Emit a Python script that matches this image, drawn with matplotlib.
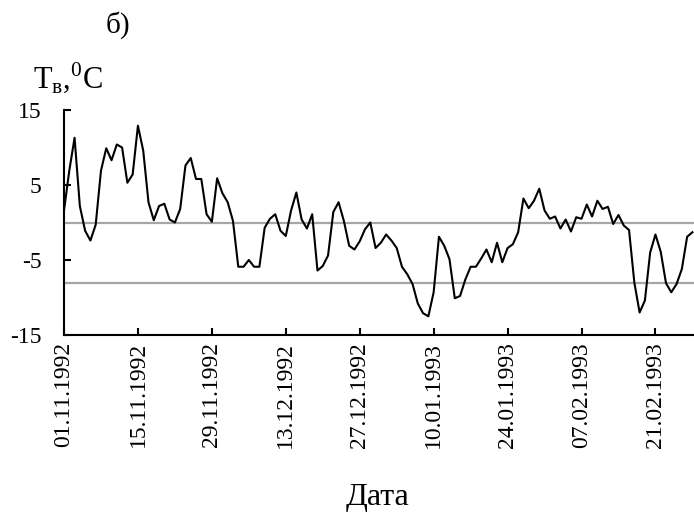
import numpy as np
import pandas as pd
import matplotlib
matplotlib.use('Agg')
import matplotlib.pyplot as plt
import matplotlib.dates as mdates

plt.rcParams['font.family'] = ['Liberation Serif', 'DejaVu Serif']
plt.rcParams['mathtext.fontset'] = 'custom'
plt.rcParams['mathtext.rm'] = 'Liberation Serif'
plt.rcParams['axes.unicode_minus'] = False

# daily air temperature, 01.11.1992 - 28.02.1993
start_date = '1992-11-01'
temps = [
    1.6, 6.9, 11.3, 2.2, -1.1, -2.4, -0.3, 6.9, 9.9, 8.3,
    10.4, 10.0, 5.3, 6.4, 12.9, 9.6, 2.7, 0.3, 2.2, 2.5,
    0.4, 0.0, 1.8, 7.6, 8.6, 5.8, 5.8, 1.1, 0.1, 5.9,
    3.9, 2.7, 0.2, -5.9, -5.9, -5.0, -5.9, -5.9, -0.7, 0.5,
    1.1, -1.1, -1.8, 1.6, 4.0, 0.4, -0.8, 1.1, -6.4, -5.8,
    -4.4, 1.4, 2.7, 0.2, -3.1, -3.6, -2.5, -0.9, 0.0, -3.4,
    -2.7, -1.6, -2.4, -3.4, -5.9, -6.9, -8.2, -10.8, -12.1, -12.5,
    -9.3, -1.9, -3.1, -4.9, -10.1, -9.8, -7.6, -5.9, -5.9, -4.8,
    -3.6, -5.3, -2.7, -5.3, -3.4, -2.9, -1.3, 3.2, 1.9, 2.9,
    4.5, 1.6, 0.5, 0.8, -0.8, 0.4, -1.2, 0.7, 0.5, 2.4,
    0.8, 2.9, 1.8, 2.1, -0.2, 1.0, -0.4, -1.0, -8.0, -12.0,
    -10.4, -4.0, -1.6, -3.9, -8.1, -9.3, -8.2, -6.2, -1.9, -1.3,
]
ref_levels = [0, -8]
y_ticks = [-15, -5, 5, 15]

dates = pd.date_range(start_date, periods=len(temps), freq='D')

fig = plt.figure(figsize=(6.94, 5.17), dpi=100)
ax = fig.add_axes([64 / 694, 1 - 335 / 517, 630 / 694, 225 / 517])

for lvl in ref_levels:
    ax.axhline(lvl, color='#a6a6a6', linewidth=1.6, zorder=1)
ax.plot(dates, temps, color='black', linewidth=1.5, zorder=2)

ax.set_ylim(-15, 15)
ax.set_yticks(y_ticks)
ax.set_xlim(dates[0], dates[0] + pd.Timedelta(days=119.3))
ax.set_xticks(pd.date_range(start_date, dates[-1], freq='14D'))
ax.xaxis.set_major_formatter(mdates.DateFormatter('%d.%m.%Y'))

for side in ['top', 'right']:
    ax.spines[side].set_visible(False)
for side in ['left', 'bottom']:
    ax.spines[side].set_linewidth(1.5)

ax.tick_params(axis='both', direction='in', length=5, width=1.5, labelsize=17)
ax.tick_params(axis='y', pad=16)
ax.tick_params(axis='x', pad=5, labelrotation=90)

fig.text(118 / 694, 1 - 25 / 517, 'б)', fontsize=21, ha='center', va='center')
fig.text(33 / 694, 1 - 88 / 517, r'Т$_\mathregular{в}$,$^\mathregular{0}$С',
         fontsize=22, ha='left', va='baseline')
fig.text(378 / 694, 1 - 505 / 517, 'Дата', fontsize=23, ha='center', va='baseline')

plt.savefig('out.png', dpi=100)
plt.close(fig)
